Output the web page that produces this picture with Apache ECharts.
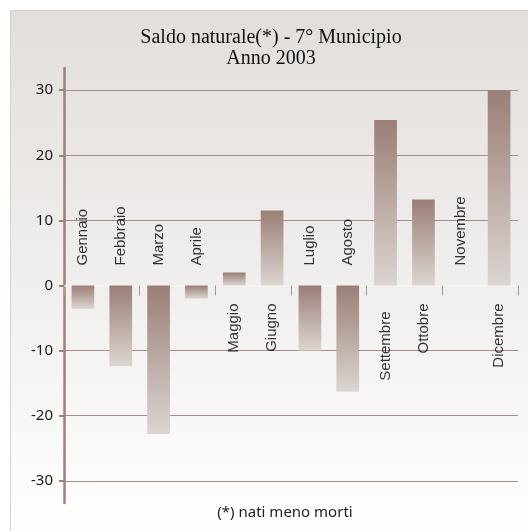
<!DOCTYPE html>
<html><head><meta charset="utf-8">
<script src="https://cdn.jsdelivr.net/npm/echarts@6/dist/echarts.min.js"></script>
<style>html,body{margin:0;padding:0;background:#fff}#c{width:528px;height:531px}</style>
</head><body><div id="c"></div>
<script>
// ---- data ----
const months = ['Gennaio','Febbraio','Marzo','Aprile','Maggio','Giugno','Luglio','Agosto','Settembre','Ottobre','Novembre','Dicembre'];
const saldo = [-3.6, -12.4, -22.8, -2, 2, 11.5, -10, -16.3, 25.4, 13.2, 0, 30];
const yTickValues = [-30, -20, -10, 0, 10, 20, 30];
const titleLines = ['Saldo naturale(*) - 7° Municipio', 'Anno 2003'];
const footnote = '(*) nati meno morti';

// ---- styles ----
const brown = '#9c8279';
const labelFont = 'Liberation Sans';
const labelGapOverride = { Settembre: 26 };

const chart = echarts.init(document.getElementById('c'), null, { renderer: 'canvas' });

const labelData = saldo.map((v, i) => {
  const below = v > 0;
  const gap = labelGapOverride[months[i]];
  return {
    value: 0,
    label: {
      position: below ? 'bottom' : 'top',
      distance: gap !== undefined ? gap : (below ? 18 : 20),
      align: below ? 'right' : 'left',
      verticalAlign: 'middle'
    }
  };
});

chart.setOption({
  animation: false,
  backgroundColor: '#ffffff',
  graphic: [
    {
      type: 'rect', z: -100, silent: true,
      shape: { x: 10.5, y: 10.5, width: 530, height: 530 },
      style: {
        fill: new echarts.graphic.LinearGradient(0, 0, 0, 1, [
          { offset: 0, color: '#e2dedb' },
          { offset: 1, color: '#ffffff' }
        ]),
        stroke: '#d6d2cf', lineWidth: 1
      }
    },
    {
      type: 'text', z: 10,
      style: { text: titleLines[0], x: 271, y: 38, align: 'center', verticalAlign: 'middle',
        font: '20px "Liberation Serif"', fill: '#111' }
    },
    {
      type: 'text', z: 10,
      style: { text: titleLines[1], x: 271, y: 59, align: 'center', verticalAlign: 'middle',
        font: '20px "Liberation Serif"', fill: '#111' }
    },
    {
      type: 'text', z: 10,
      style: { text: footnote, x: 285, y: 513, align: 'center', verticalAlign: 'middle',
        font: '15px "Noto Sans"', fill: '#222' }
    }
  ],
  grid: { left: 64, right: 10, top: 68, height: 435 },
  xAxis: {
    type: 'category',
    data: months,
    boundaryGap: true,
    axisLine: { onZero: true, lineStyle: { color: '#f6f3f1', width: 2 } },
    axisTick: { show: true, length: 10, lineStyle: { color: '#a89a93', width: 1 } },
    axisLabel: { show: false },
    splitLine: { show: false }
  },
  yAxis: {
    type: 'value',
    min: -33.4,
    max: 33.4,
    axisLine: { show: true, lineStyle: { color: brown, width: 2.5 } },
    axisTick: { show: true, length: 5, lineStyle: { color: brown, width: 2 }, customValues: yTickValues },
    axisLabel: { customValues: yTickValues, margin: 11, fontFamily: 'Noto Sans', fontSize: 15, color: '#1a1a1a' },
    splitLine: { show: true, lineStyle: { color: '#a48e86', width: 1 } }
  },
  series: [
    {
      type: 'bar',
      data: saldo,
      barWidth: '60%',
      z: 2,
      itemStyle: {
        color: new echarts.graphic.LinearGradient(0, 0, 0, 1, [
          { offset: 0, color: '#9a7f76' },
          { offset: 1, color: '#dcd5d2' }
        ])
      }
    },
    {
      type: 'scatter',
      data: labelData,
      symbolSize: 0,
      z: 5,
      silent: true,
      label: {
        show: true,
        rotate: 90,
        formatter: p => months[p.dataIndex],
        fontFamily: labelFont,
        fontSize: 15,
        color: '#000'
      }
    }
  ]
});
</script>
</body></html>
